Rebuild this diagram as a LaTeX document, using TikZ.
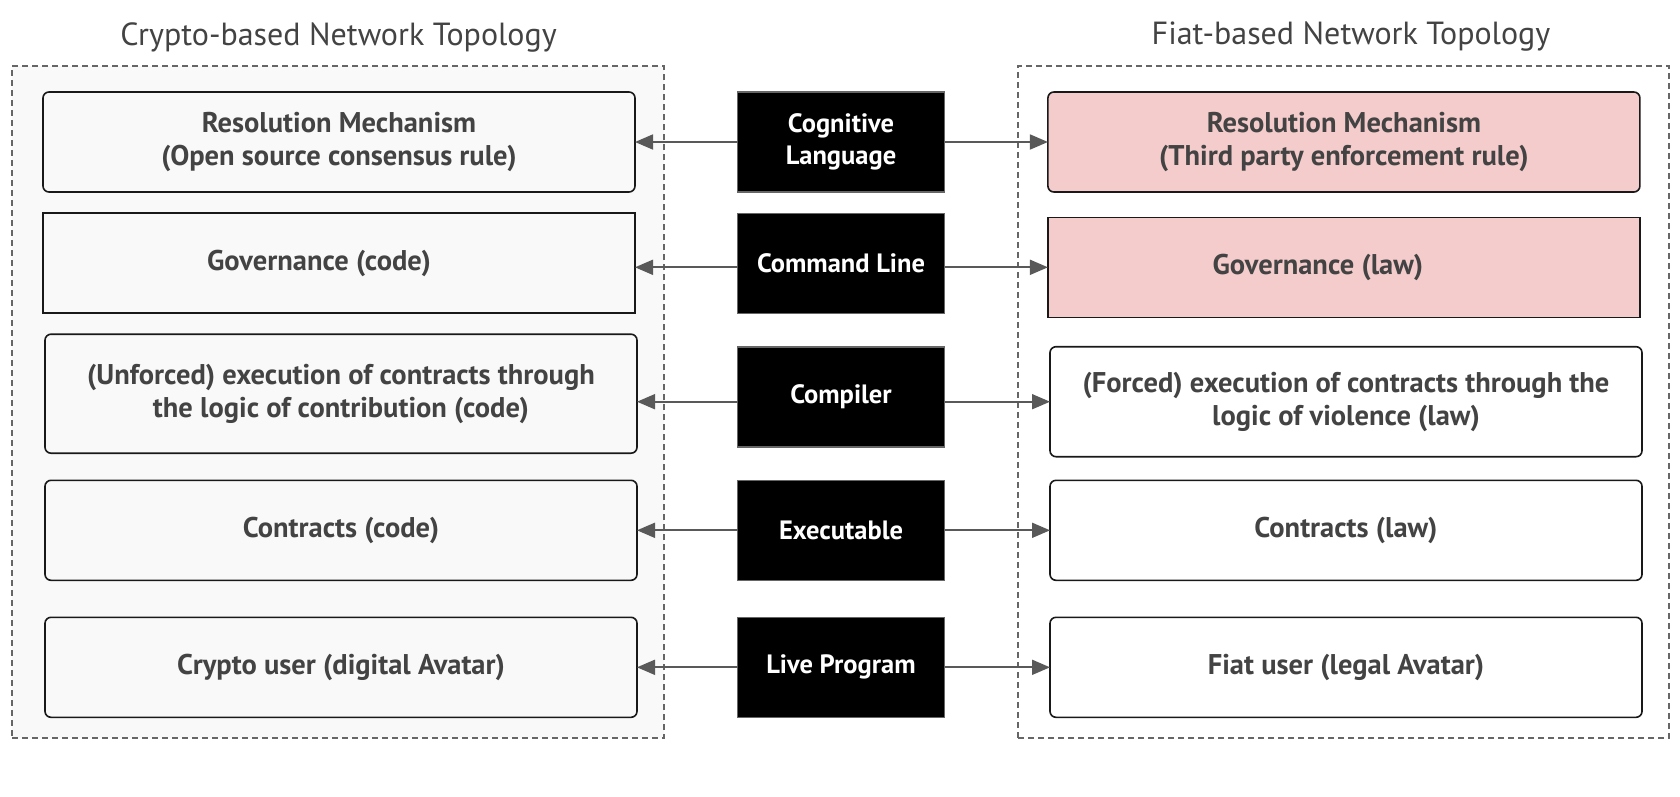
\documentclass[tikz,border=0pt]{standalone}
\usepackage{fontspec}
\setmainfont{PT Sans}
\usetikzlibrary{arrows.meta}
\definecolor{txt}{HTML}{434343}
\definecolor{lgray}{HTML}{F9F9F9}
\definecolor{pinkf}{HTML}{F4CCCC}
\definecolor{arrc}{HTML}{595959}
\definecolor{dashc}{HTML}{666666}
\definecolor{cbord}{HTML}{666666}
\begin{document}
\begin{tikzpicture}[x=1pt,y=-1pt,
  frame/.style={draw=dashc, line width=1.5pt, dash pattern=on 6pt off 4pt, inner sep=0pt, outer sep=0pt},
  ttl/.style={font=\fontsize{32}{36}\selectfont, text=txt, inner sep=0pt},
  base/.style={draw=black!90, line width=1.6pt, inner sep=0pt, outer sep=0pt, align=center,
     text=txt, font=\bfseries\fontsize{28.5}{33}\selectfont, minimum width=592pt, minimum height=100pt},
  lbox/.style={base, fill=lgray, rounded corners=6pt},
  lsq/.style={base, fill=lgray},
  rbox/.style={base, fill=white, rounded corners=6pt},
  pbox/.style={base, fill=pinkf, rounded corners=6pt},
  psq/.style={base, fill=pinkf},
  cbox/.style={draw=cbord, line width=1.5pt, fill=black, text=white, inner sep=0pt, outer sep=0pt,
     align=center, font=\bfseries\fontsize{26.5}{32}\selectfont, minimum width=207pt, minimum height=100pt},
  arr/.style={draw=arrc, line width=1.8pt, -{Triangle[length=18pt,width=15pt]}}
]
\useasboundingbox (0,0) rectangle (1680,796);
% frames
\node[frame, fill=lgray, minimum width=652pt, minimum height=672pt] (lf) at (338,402) {};
\node[frame, fill=white, minimum width=651pt, minimum height=672pt] (rf) at (1343.5,402) {};
% titles
\node[ttl] (t1) at (338.6,37) {Crypto-based Network Topology};
\node[ttl] (t2) at (1351,37) {Fiat-based Network Topology};
% left column
\node[lbox] (l1) at (339,142) {Resolution Mechanism\\(Open source consensus rule)};
\node[lsq]  (l2) at (339,263) {Governance (code)\hspace*{40pt}};
\node[lbox, minimum height=119pt] (l3) at (341,393.7) {(Unforced) execution of contracts through\\the logic of contribution (code)};
\node[lbox] (l4) at (341,530.3) {Contracts (code)};
\node[lbox] (l5) at (341,667.3) {Crypto user (digital Avatar)};
% center column
\node[cbox] (c1) at (841,142) {Cognitive\\Language};
\node[cbox] (c2) at (841,263.3) {Command Line};
\node[cbox] (c3) at (841,396.8) {Compiler};
\node[cbox] (c4) at (841,530.3) {Executable};
\node[cbox] (c5) at (841,667.3) {Live Program};
% right column
\node[pbox] (r1) at (1343.9,142) {Resolution Mechanism\\(Third party enforcement rule)};
\node[psq]  (r2) at (1343.9,267.3) {Governance (law)\hspace*{52pt}};
\node[rbox, minimum height=110pt] (r3) at (1346,401.7) {(Forced) execution of contracts through the\\logic of violence (law)};
\node[rbox] (r4) at (1346,530.3) {Contracts (law)};
\node[rbox] (r5) at (1346,667.3) {Fiat user (legal Avatar)};
% arrows
\draw[arr] (c1.west) -- (l1.east);
\draw[arr] (c1.east) -- (r1.west);
\draw[arr] (c2.west |- r2.center) -- (l2.east |- r2.center);
\draw[arr] (c2.east |- r2.center) -- (r2.west);
\draw[arr] (c3.west |- r3.center) -- (l3.east |- r3.center);
\draw[arr] (c3.east |- r3.center) -- (r3.west);
\draw[arr] (c4.west) -- (l4.east);
\draw[arr] (c4.east) -- (r4.west);
\draw[arr] (c5.west) -- (l5.east);
\draw[arr] (c5.east) -- (r5.west);
\end{tikzpicture}
\end{document}
